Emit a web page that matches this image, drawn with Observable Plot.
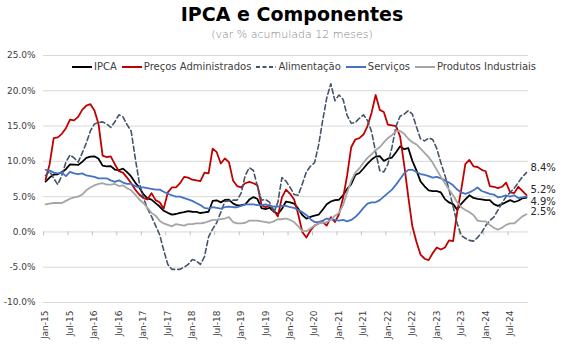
<!DOCTYPE html>
<html><head><meta charset="utf-8">
<script src="https://cdn.jsdelivr.net/npm/d3@7"></script>
<script src="https://cdn.jsdelivr.net/npm/@observablehq/plot@0.6"></script>
<style>
body{margin:0;background:#fff;}
#wrap{position:relative;width:584px;height:364px;font-family:"DejaVu Sans",sans-serif;overflow:hidden;}
#chart{position:absolute;left:0;top:0;}
#title{position:absolute;top:3px;left:0;width:584px;text-align:center;font-weight:bold;font-size:19px;color:#000;}
#sub{position:absolute;top:28px;left:0;width:584px;text-align:center;font-size:11px;color:#7f7f7f;font-weight:300;}
#legend{position:absolute;top:61px;left:72px;display:flex;align-items:center;font-size:10px;color:#404040;white-space:nowrap;}
.li{display:flex;align-items:center;margin-right:5px;}
.li svg{margin-right:2px;}
</style>
</head><body>
<div id="wrap">
  <div id="chart"></div>
  <div id="title">IPCA e Componentes</div>
  <div id="sub">(var % acumulada 12 meses)</div>
  <div id="legend"></div>
</div>
<script>
// Monthly series, Jan-15 .. Nov-24 (12-month accumulated % change)
const ipca = [
  7.14, 7.70, 8.13, 8.17, 8.47, 8.89, 9.56, 9.53, 9.49, 9.93, 10.48, 10.67,
  10.71, 10.36, 9.39, 9.28, 9.32, 8.84, 8.74, 8.97, 8.48, 7.87, 6.99, 6.29,
  5.35, 4.76, 4.57, 4.08, 3.60, 3.00, 2.71, 2.46, 2.54, 2.70, 2.80, 2.95,
  2.86, 2.84, 2.68, 2.76, 2.86, 4.39, 4.48, 4.19, 4.53, 4.56, 4.05, 3.75,
  3.78, 3.89, 4.58, 4.94, 4.66, 3.37, 3.22, 3.43, 2.89, 2.54, 3.27, 4.31,
  4.19, 4.01, 3.30, 2.40, 1.88, 2.13, 2.31, 2.44, 3.14, 3.92, 4.31, 4.52,
  4.56, 5.20, 6.10, 6.76, 8.06, 8.35, 8.99, 9.68, 10.25, 10.67, 10.74, 10.06,
  10.38, 10.54, 11.30, 12.13, 11.73, 11.89, 10.07, 8.73, 7.17, 6.47, 5.90, 5.79,
  5.77, 5.60, 4.65, 4.18, 3.94, 3.16, 3.99, 4.61, 5.19, 4.82, 4.68, 4.62,
  4.51, 4.50, 3.93, 3.69, 3.93, 4.23, 4.50, 4.24, 4.42, 4.76, 4.87
];
const administrados = [
  7.4, 9.6, 13.3, 13.4, 13.9, 14.7, 15.9, 15.8, 16.3, 17.3, 17.9, 18.1,
  17.2, 15.3, 10.8, 10.6, 10.7, 9.6, 8.6, 8.4, 7.7, 6.9, 6.0, 5.3,
  4.8, 4.6, 5.5, 4.5, 4.2, 3.3, 5.6, 6.3, 6.3, 6.9, 7.8, 7.7,
  7.4, 7.3, 7.2, 8.4, 8.3, 11.8, 11.3, 9.7, 10.4, 9.9, 7.3, 6.5,
  6.3, 6.9, 7.1, 6.9, 6.6, 3.8, 3.5, 3.8, 3.1, 2.2, 4.9, 6.0,
  5.4, 4.6, 2.5, 0.0, -0.8, 0.2, 0.9, 1.2, 1.4, 0.9, 2.1, 1.4,
  2.5, 4.8, 8.0, 12.0, 13.1, 13.3, 13.8, 15.0, 16.9, 19.4, 17.3, 17.0,
  15.2, 15.1, 15.0, 13.5, 9.5, 5.0, 0.8, -1.4, -3.2, -3.8, -4.0, -3.0,
  -2.2, -2.5, -2.2, -1.2, -1.3, 2.8, 6.0, 9.6, 10.2, 9.3, 9.2, 8.8,
  8.6, 6.5, 6.4, 6.2, 6.4, 7.0, 5.6, 5.5, 6.4, 5.8, 5.2
];
const alimentacao = [
  8.0, 8.6, 7.6, 6.7, 8.0, 9.9, 10.9, 10.5, 9.9, 11.2, 12.6, 14.3,
  15.3, 15.5, 15.6, 15.3, 14.8, 15.6, 16.6, 16.3, 15.2, 14.3, 10.5, 7.0,
  4.9, 3.3, 2.2, 0.9, -0.4, -2.6, -4.6, -5.3, -5.3, -5.3, -5.0, -4.6,
  -3.9, -4.1, -4.6, -3.5, -0.7, 0.4, 1.3, 2.8, 4.3, 4.4, 4.5, 4.5,
  5.5, 8.0, 9.1, 8.7, 6.4, 4.5, 4.6, 4.2, 2.7, 4.2, 7.7, 7.2,
  6.3, 5.3, 5.2, 6.8, 8.5, 9.3, 9.8, 12.3, 15.8, 19.0, 21.0, 18.6,
  19.4, 18.8, 16.5, 15.4, 15.5, 16.1, 16.6, 15.8, 14.2, 11.3, 8.7, 8.5,
  9.6, 12.0, 15.0, 16.4, 16.7, 17.2, 16.7, 14.9, 13.2, 12.9, 13.3, 13.1,
  11.8, 9.8, 8.0, 6.0, 3.6, 1.2, -0.5, -0.9, -1.2, -1.3, -0.8, -0.1,
  0.9, 1.6, 2.1, 3.1, 4.1, 5.0, 5.6, 6.2, 7.0, 7.8, 8.4
];
const servicos = [
  8.8, 8.7, 8.4, 8.3, 8.4, 7.9, 8.5, 8.3, 8.2, 8.3, 8.0, 7.9,
  7.8, 7.6, 7.6, 7.6, 7.3, 7.1, 7.3, 7.0, 6.8, 6.8, 6.5, 6.3,
  6.3, 6.2, 6.1, 6.0, 6.0, 5.7, 5.4, 5.2, 5.0, 5.0, 4.8, 4.6,
  4.4, 4.1, 3.8, 3.4, 3.3, 3.5, 3.4, 3.3, 3.5, 3.6, 3.5, 3.5,
  3.7, 3.9, 3.9, 3.9, 3.8, 3.8, 3.9, 3.7, 3.6, 3.6, 3.7, 3.7,
  3.5, 3.4, 3.1, 2.8, 2.4, 1.8, 1.4, 1.4, 1.6, 1.9, 1.8, 1.7,
  1.6, 1.7, 1.5, 1.7, 2.1, 2.7, 3.4, 4.0, 4.2, 4.2, 4.5, 5.0,
  5.5, 6.0, 6.7, 7.5, 8.3, 8.8, 8.8, 8.5, 8.2, 8.1, 7.9, 7.7,
  7.8, 7.6, 7.3, 7.0, 6.6, 6.0, 5.6, 5.4, 5.6, 5.9, 6.3, 5.8,
  5.6, 5.4, 5.3, 4.9, 5.0, 5.2, 5.0, 5.2, 4.8, 4.9, 5.0
];
const industriais = [
  3.9, 4.0, 4.1, 4.1, 4.1, 4.4, 4.7, 4.9, 5.0, 5.3, 5.9, 6.3,
  6.6, 6.8, 6.9, 6.7, 6.7, 6.8, 6.5, 6.6, 6.2, 5.9, 5.3, 4.6,
  4.1, 3.4, 2.7, 2.3, 1.6, 1.2, 1.0, 0.8, 1.1, 1.0, 0.9, 1.1,
  1.1, 1.2, 1.2, 1.3, 1.5, 1.7, 1.7, 1.8, 1.9, 2.1, 1.4, 1.2,
  1.2, 1.3, 1.6, 1.6, 1.6, 1.5, 1.4, 1.3, 1.5, 1.8, 1.8, 1.9,
  1.7, 1.4, 0.8, 0.1, 0.1, 0.5, 0.9, 1.2, 1.3, 1.4, 1.7, 2.3,
  2.7, 3.8, 5.6, 7.2, 8.4, 9.0, 9.8, 10.5, 11.0, 11.6, 12.0, 12.7,
  13.3, 13.7, 14.3, 14.3, 13.9, 13.2, 12.7, 12.4, 11.8, 11.2, 10.6, 9.8,
  8.8, 7.8, 6.9, 6.0, 5.2, 4.2, 3.5, 3.1, 2.8, 2.4, 1.6, 1.5,
  1.5, 1.0, 0.6, 0.3, 0.6, 1.0, 1.2, 1.2, 1.7, 2.2, 2.5
];
const tickLabels = ["Jan-15","Jul-15","Jan-16","Jul-16","Jan-17","Jul-17","Jan-18","Jul-18","Jan-19","Jul-19",
  "Jan-20","Jul-20","Jan-21","Jul-21","Jan-22","Jul-22","Jan-23","Jul-23","Jan-24","Jul-24"];
const yTicks = [-10, -5, 0, 5, 10, 15, 20, 25];
const seriesNames = ["IPCA", "Preços Administrados", "Alimentação", "Serviços", "Produtos Industriais"];

const n = ipca.length;
const tickIdx = tickLabels.map((_, i) => i * 6);
const colors = {"IPCA":"#000000","Preços Administrados":"#c00000","Alimentação":"#44546a","Serviços":"#4472c4","Produtos Industriais":"#a5a5a5"};
const dashes = {"Alimentação":"5,3"};
const seriesData = [ipca, administrados, alimentacao, servicos, industriais];

const lineMarks = seriesNames.map((name, k) =>
  Plot.lineY(seriesData[k], {x: (d, i) => i, y: d => d, stroke: colors[name],
    strokeWidth: name === "Alimentação" ? 1.6 : 1.8, strokeDasharray: dashes[name] || null, curve: "linear"})
);
const endLabel = (arr, dy) => Plot.text([arr[n - 1]], {x: () => n - 1, y: d => d, text: d => d.toFixed(1) + "%",
  textAnchor: "start", dx: 4, dy, fontSize: 10, fill: "#262626"});

const chart = Plot.plot({
  width: 584, height: 364,
  marginTop: 55, marginBottom: 62, marginLeft: 43, marginRight: 56,
  x: {type: "linear", domain: [-0.5, n - 0.5]},
  y: {domain: [-10, 25]},
  style: {fontFamily: "DejaVu Sans", fontSize: "9px", color: "#404040", background: "transparent", overflow: "visible"},
  marks: [
    Plot.ruleY(yTicks, {stroke: "#d9d9d9", strokeWidth: 1}),
    Plot.ruleX(tickIdx, {x: d => d - 0.5, y1: 0, y2: -0.55, stroke: "#bfbfbf"}),
    Plot.axisY({ticks: yTicks, tickFormat: d => d.toFixed(1) + "%", tickSize: 0, tickPadding: 8, fontSize: 9}),
    Plot.axisX({ticks: tickIdx, tickFormat: d => tickLabels[d / 6], tickRotate: -90, tickSize: 0, tickPadding: 8, fontSize: 9}),
    ...lineMarks,
    endLabel(alimentacao, -5),
    endLabel(administrados, -5),
    endLabel(ipca, 4),
    endLabel(industriais, -2)
  ]
});
document.getElementById("chart").appendChild(chart);

// legend
const lg = document.getElementById("legend");
seriesNames.forEach(name => {
  const item = document.createElement("div");
  item.className = "li";
  const dash = dashes[name] ? `stroke-dasharray="4,2.5"` : "";
  item.innerHTML = `<svg width="20" height="6"><line x1="0" y1="3" x2="20" y2="3" stroke="${colors[name]}" stroke-width="2" ${dash}/></svg><span>${name}</span>`;
  lg.appendChild(item);
});
</script>
</body></html>
